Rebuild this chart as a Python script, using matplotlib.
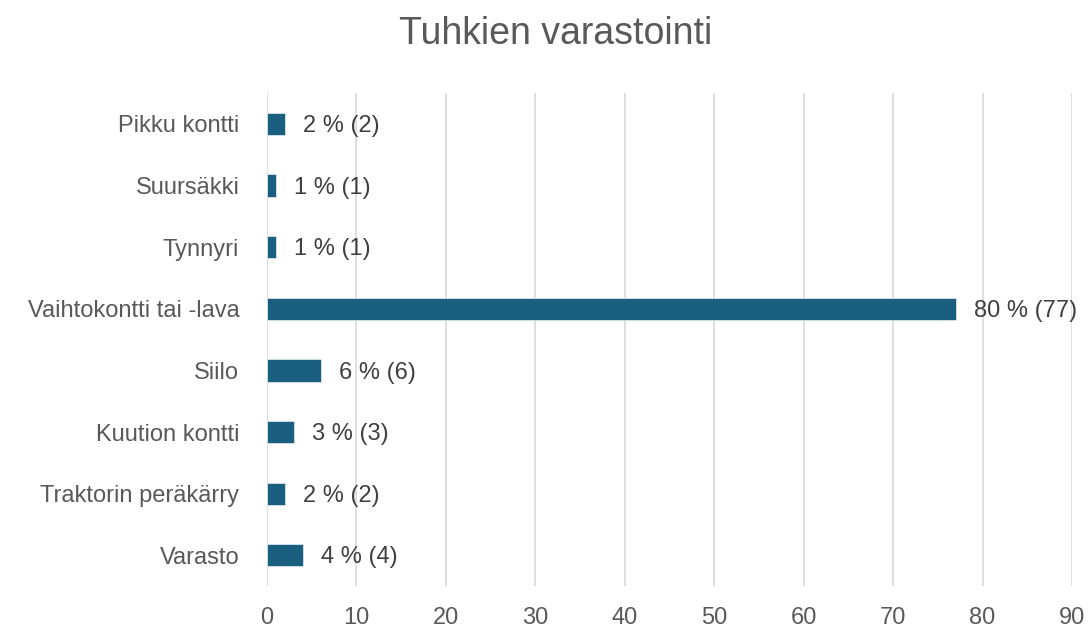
import matplotlib.pyplot as plt

categories = ['Pikku kontti', 'Suursäkki', 'Tynnyri', 'Vaihtokontti tai -lava',
              'Siilo', 'Kuution kontti', 'Traktorin peräkärry', 'Varasto']
counts = [2, 1, 1, 77, 6, 3, 2, 4]
percents = [2, 1, 1, 80, 6, 3, 2, 4]

plt.rcParams['font.family'] = ['Liberation Sans', 'DejaVu Sans']
grey = '#595959'

fig = plt.figure(figsize=(10.9, 6.33), dpi=100)
ax = fig.add_axes([0.245, 0.074, 0.7385, 0.779])

pos = list(range(len(categories)))
ax.barh(pos, counts, height=0.36, color='#1a5e80', edgecolor='#d6e4ec', linewidth=0.6, zorder=3)
for p, c, pc in zip(pos, counts, percents):
    ax.annotate('%d %% (%d)' % (pc, c), xy=(c, p), xytext=(13, -1.5), textcoords='offset points',
                va='center', ha='left', fontsize=17, color='#404040', zorder=4)

ax.set_yticks(pos)
ax.set_yticklabels(categories)
ax.set_ylim(len(categories) - 0.5, -0.5)
ax.set_xlim(0, 90)
ax.set_xticks(range(0, 91, 10))
ax.grid(axis='x', color='#d9d9d9', linewidth=1.2, zorder=0)
for s in ax.spines.values():
    s.set_visible(False)
ax.tick_params(length=0, labelsize=17, colors=grey)
ax.tick_params(axis='y', pad=20)
ax.tick_params(axis='x', pad=15)
for t in ax.get_xticklabels() + ax.get_yticklabels():
    t.set_color(grey)

fig.suptitle('Tuhkien varastointi', x=0.51, y=0.975, fontsize=27, color=grey)
fig.savefig('out.png', dpi=100)
